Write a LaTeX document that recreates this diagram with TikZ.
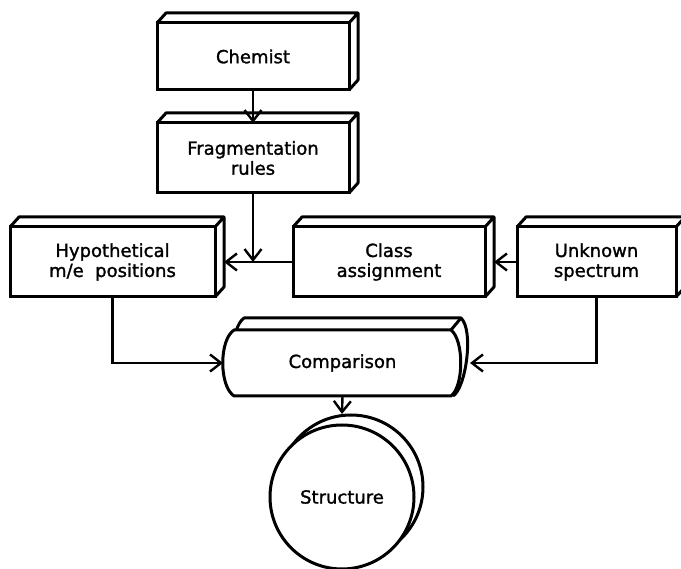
\documentclass[tikz,border=0pt]{standalone}
\usepackage{fontspec}
\setmainfont{DejaVu Sans}
\newfontfamily\lettering{DejaVu Sans}[FakeBold=1.4]
\usetikzlibrary{arrows.meta, calc, backgrounds}

\tikzset{
  slab/.style={line width=3pt, line join=round},
  block/.style={draw, line width=3pt, fill=white, align=center, inner sep=0pt, outer sep=0pt},
  link/.style={line width=2.4pt, -{Straight Barb[length=11pt, width=17pt]}},
}

\begin{document}
\begin{tikzpicture}[x=1pt, y=-1pt, font=\lettering\fontsize{18}{20}\selectfont]
  \useasboundingbox (0,0) rectangle (681,569);

  % front faces
  \node[block, minimum width=192pt, minimum height=67pt] (chemist) at (253,56.5) {Chemist};
  \node[block, minimum width=192pt, minimum height=70pt] (frag) at (253,158) {Fragmentation\\rules};
  \node[block, minimum width=205pt, minimum height=70pt] (hypo) at (112.5,262) {Hypothetical\\m/e~~positions};
  \node[block, minimum width=192pt, minimum height=70pt] (class) at (389,262) {Class\\assignment};
  \node[block, minimum width=159pt, minimum height=70pt] (unknown) at (596.5,262) {Unknown\\spectrum};
  \node[minimum width=217pt, minimum height=66pt, inner sep=0pt, outer sep=0pt] (compar) at (342.5,363) {Comparison};
  \node[block, circle, minimum size=144pt] (struct) at (342,497) {Structure};

  % depth of the blocks
  \begin{scope}[on background layer]
    \foreach \n in {chemist, frag, hypo, class, unknown}
      \draw[slab] (\n.north west) -- ++(9,-10) -- ($(\n.north east)+(9,-10)$)
        -- ($(\n.south east)+(9,-10)$) -- (\n.south east)
        (\n.north east) -- ++(9,-10);
    \draw[slab] ([shift={(10,-12)}]compar.south west) .. controls +(-14,-10) and +(-14,10) .. ([shift={(10,-12)}]compar.north west)
      -- ([shift={(10,-12)}]compar.north east) .. controls +(13,12) and +(13,-8) .. ([xshift=2pt]compar.south east);
    \draw[slab, fill=white] (compar.north west) -- (compar.north east)
      .. controls +(13,10) and +(13,-10) .. (compar.south east) -- (compar.south west)
      .. controls +(-15,-10) and +(-15,10) .. (compar.north west) -- cycle;
    \draw[slab] (compar.north east) -- ++(10,-12);
    \draw[slab] ([shift={(9,-10)}]struct.center) circle (72);
  \end{scope}

  % connectors
  \draw[link] (chemist.south) -- (frag.north);
  \draw[link] (frag.south) -- (frag.south |- hypo.east);
  \draw[link] (class.west) -- ([xshift=9pt]hypo.east);
  \draw[link] (unknown.west) -- ([xshift=9pt]class.east);
  \draw[link] (hypo.south) |- ([xshift=-11pt]compar.west);
  \draw[link] (unknown.south) |- ([xshift=19pt]compar.east);
  \draw[link] (compar.south) -- ([yshift=11pt]struct.north);
\end{tikzpicture}
\end{document}
